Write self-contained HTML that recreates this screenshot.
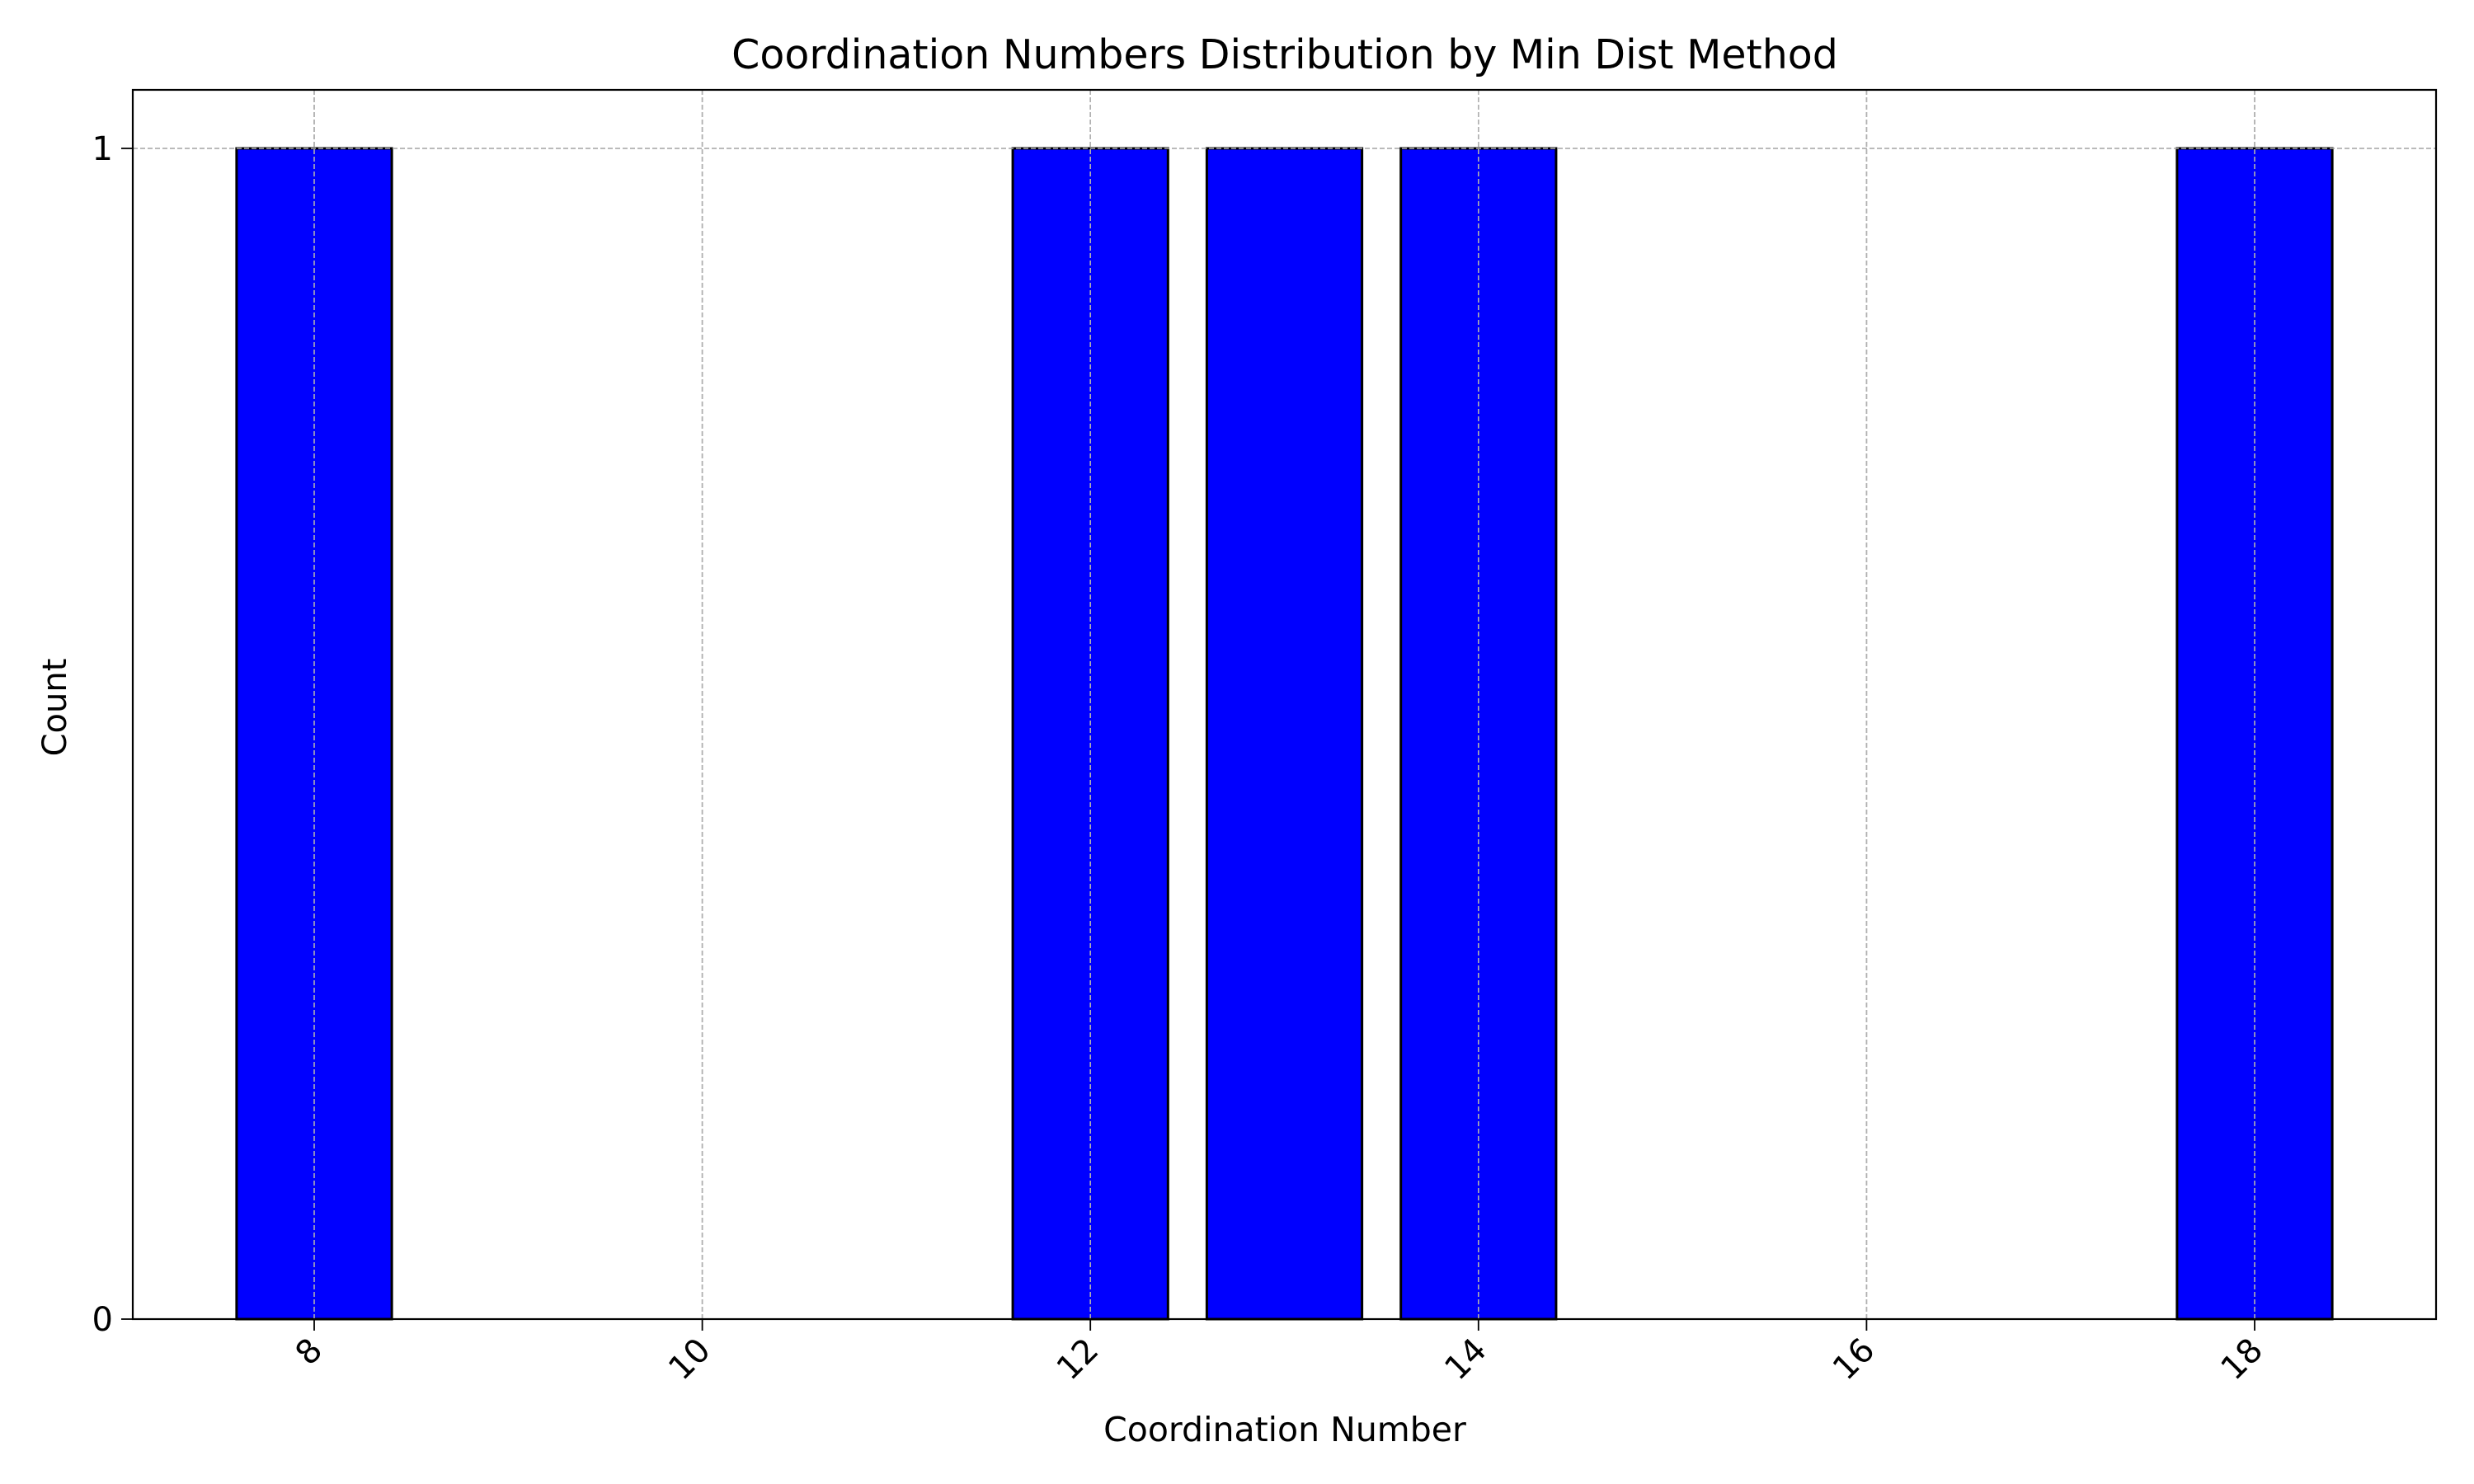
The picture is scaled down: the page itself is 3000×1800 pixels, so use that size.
<!DOCTYPE html>
<html><head><meta charset="utf-8"><style>body{margin:0;background:#fff}svg{display:block;font-family:"DejaVu Sans","Liberation Sans",sans-serif}</style></head>
<body>
<svg id="chart" width="3000" height="1800">
<text x="1558" y="83" font-size="49" text-anchor="middle">Coordination Numbers Distribution by Min Dist Method</text>
<text x="1558" y="1748" font-size="41" text-anchor="middle">Coordination Number</text>
<text transform="translate(80,858) rotate(-90)" font-size="40" text-anchor="middle">Count</text>
<g id="grid"></g><g id="bars"></g><g id="axes"></g>
</svg>
<script>
const categories = [8, 12, 13, 14, 18];
const counts = [1, 1, 1, 1, 1];
const xTicks = [8, 10, 12, 14, 16, 18];
const yTicks = [0, 1];
const L=161,R=2954,T=109,B=1600;
const U=235.3;
const X=v=>381+(v-8)*U;
const Y=v=>B-v*(B-180);
const NS='http://www.w3.org/2000/svg';
function mk(p,tag,a){const e=document.createElementNS(NS,tag);for(const k in a)e.setAttribute(k,a[k]);p.appendChild(e);return e;}
const grid=document.getElementById('grid'),bars=document.getElementById('bars'),axes=document.getElementById('axes');
xTicks.forEach(t=>{
  const g=mk(grid,'line',{x1:X(t),x2:X(t),y1:T,y2:B,stroke:'#b0b0b0','stroke-width':1.6,'stroke-dasharray':'6,3'});
  
  
  const tk=mk(axes,'line',{x1:X(t),x2:X(t),y1:B,y2:B+14,stroke:'#000','stroke-width':1.8});
  
  
  const lb=mk(axes,'text',{transform:`translate(${X(t)+12},${B+40}) rotate(-45)`,'font-size':40,'text-anchor':'end'});
  lb.textContent=t;
  
  
});
yTicks.forEach(t=>{
  if(t>0){const g=mk(grid,'line',{x1:L,x2:R,y1:Y(t),y2:Y(t),stroke:'#b0b0b0','stroke-width':1.6,'stroke-dasharray':'6,3'});
  
  }
  const tk=mk(axes,'line',{x1:L-14,x2:L,y1:Y(t),y2:Y(t),stroke:'#000','stroke-width':1.8});
  
  
  const lb=mk(axes,'text',{x:L-24,y:Y(t)+14,'font-size':40,'text-anchor':'end'});
  lb.textContent=t;
  
  
});
categories.forEach((c,i)=>{
  const w=0.8*U;
  const b=mk(bars,'rect',{x:X(c)-w/2,y:Y(counts[i]),width:w,height:Y(0)-Y(counts[i]),fill:'#0000ff',stroke:'#000','stroke-width':3});
  
  
});
bars.parentNode.appendChild(grid.cloneNode(true));
const fr=mk(axes,'rect',{x:L,y:T,width:R-L,height:B-T,fill:'none',stroke:'#000','stroke-width':2.2});


document.getElementById('chart').appendChild(axes);
</script>
</body></html>
